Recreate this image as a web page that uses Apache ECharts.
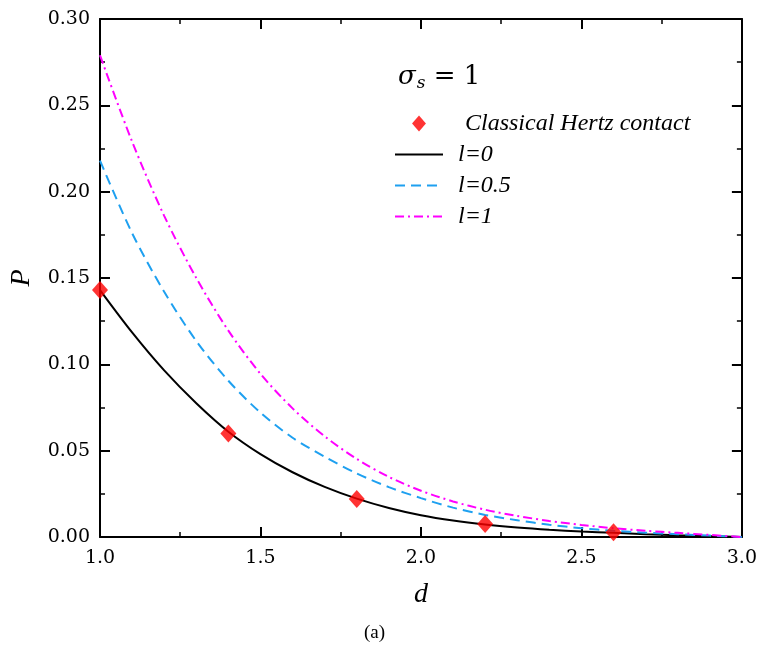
<!DOCTYPE html>
<html>
<head>
<meta charset="utf-8">
<script src="https://cdn.jsdelivr.net/npm/echarts@6/dist/echarts.min.js"></script>
<style>html,body{margin:0;padding:0;background:#fff}#c{width:760px;height:652px}</style>
</head>
<body>
<div id="c"></div>
<script>
// ---- data ----
var dValues = [1.0,1.1,1.2,1.3,1.4,1.5,1.6,1.7,1.8,1.9,2.0,2.1,2.2,2.3,2.4,2.5,2.6,2.7,2.8,2.9,3.0];
var pL0   = [0.143,0.1185,0.0965,0.0775,0.061,0.048,0.0375,0.029,0.0222,0.0168,0.0126,0.0095,0.0072,0.0055,0.0042,0.0032,0.0024,0.0016,0.0010,0.0005,0.0];
var pL05  = [0.218,0.176,0.142,0.1135,0.0905,0.072,0.0575,0.0465,0.0368,0.0289,0.0225,0.017,0.0128,0.0097,0.0071,0.0051,0.0036,0.0025,0.0016,0.0008,0.0];
var pL1   = [0.279,0.229,0.186,0.150,0.1195,0.0945,0.0745,0.0583,0.0452,0.0348,0.0268,0.0206,0.0158,0.0122,0.0093,0.0070,0.0051,0.0036,0.0024,0.0012,0.0];
var hertzD = [1.0,1.4,1.8,2.2,2.6];
var hertzP = [0.143,0.060,0.022,0.0075,0.0028];
var xTicks = [1.0,1.5,2.0,2.5,3.0];
var yTicks = [0.00,0.05,0.10,0.15,0.20,0.25,0.30];
var seriesNames = ['Classical Hertz contact','l=0','l=0.5','l=1'];

function pairs(xs, ys){ return xs.map(function(x,i){ return [x, ys[i]]; }); }

var FONT = 'DejaVu Serif';
var chart = echarts.init(document.getElementById('c'), null, {renderer:'canvas'});

function axisCommon(extra){
  var base = {
    type:'value',
    axisLine:{show:true, onZero:false, lineStyle:{color:'#000', width:2}},
    axisTick:{show:true, inside:true, length:10, lineStyle:{color:'#000', width:2}},
    minorTick:{show:true, splitNumber:2, length:5, lineStyle:{color:'#000', width:1.5}},
    splitLine:{show:false},
    minorSplitLine:{show:false}
  };
  for (var k in extra) base[k] = extra[k];
  return base;
}

var hidden = {color:'rgba(0,0,0,0)', borderWidth:0, opacity:0};

var option = {
  backgroundColor:'#fff',
  animation:false,
  grid:{left:98, right:18, top:19, bottom:115, containLabel:false},
  xAxis:[
    axisCommon({min:xTicks[0], max:xTicks[xTicks.length-1], interval:0.5, position:'bottom',
      name:'d', nameLocation:'middle', nameGap:44,
      nameTextStyle:{fontFamily:'Liberation Serif', fontStyle:'italic', fontSize:28, color:'#000'},
      axisLabel:{show:true, margin:12, fontFamily:FONT, fontSize:19, color:'#000',
        formatter:function(v){return v.toFixed(1);}}}),
    axisCommon({min:xTicks[0], max:xTicks[xTicks.length-1], interval:0.5, position:'top',
      axisLabel:{show:false}})
  ],
  yAxis:[
    axisCommon({min:yTicks[0], max:yTicks[yTicks.length-1], interval:0.05, position:'left',
      name:'P', nameLocation:'middle', nameGap:64,
      nameTextStyle:{fontFamily:'Liberation Serif', fontStyle:'italic', fontSize:28, color:'#000'},
      axisLabel:{show:true, margin:10, fontFamily:FONT, fontSize:19, color:'#000',
        formatter:function(v){return v.toFixed(2);}}}),
    axisCommon({min:yTicks[0], max:yTicks[yTicks.length-1], interval:0.05, position:'right',
      axisLabel:{show:false}})
  ],
  legend:{
    orient:'vertical', left:389, top:106,
    itemWidth:48, itemHeight:16, itemGap:6,
    data:[
      {name:seriesNames[0], icon:'path://M0,-1.15L1,0L0,1.15L-1,0Z', textStyle:{padding:[0,0,0,17]}},
      {name:seriesNames[1], itemStyle:hidden},
      {name:seriesNames[2], itemStyle:hidden},
      {name:seriesNames[3], itemStyle:hidden}
    ],
    textStyle:{fontFamily:'Liberation Serif', fontStyle:'italic', fontSize:24, color:'#000', lineHeight:25, padding:[0,0,0,10]}
  },
  graphic:[
    {type:'text', left:398, top:64, style:{
      text:'{s|σ}{sub|s}{eq| = 1}',
      rich:{
        s:{fontFamily:'DejaVu Serif', fontStyle:'italic', fontSize:26, fill:'#000'},
        sub:{fontFamily:'DejaVu Serif', fontStyle:'italic', fontSize:17, fill:'#000', padding:[14,0,0,1]},
        eq:{fontFamily:'DejaVu Serif', fontSize:26, fill:'#000'}
      }}},
    {type:'text', left:364, top:624, style:{text:'(a)', fontFamily:'Liberation Serif', fontSize:19, fill:'#000'}}
  ],
  series:[
    {name:seriesNames[1], type:'line', data:pairs(dValues,pL0), smooth:0.3, symbol:'none', showSymbol:false,
      lineStyle:{color:'#000', width:2, type:'solid'}, itemStyle:{color:'#000'}, z:3},
    {name:seriesNames[2], type:'line', data:pairs(dValues,pL05), smooth:0.3, symbol:'none', showSymbol:false,
      lineStyle:{color:'#1ea0f0', width:2, type:[10,6]}, itemStyle:{color:'#1ea0f0'}, z:3},
    {name:seriesNames[3], type:'line', data:pairs(dValues,pL1), smooth:0.3, symbol:'none', showSymbol:false,
      lineStyle:{color:'#ff00ff', width:2, type:[9,4,2,4]}, itemStyle:{color:'#ff00ff'}, z:3},
    {name:seriesNames[0], type:'scatter', data:pairs(hertzD,hertzP), symbol:'diamond', symbolSize:[16,18],
      itemStyle:{color:'#ff0000'}, clip:true, z:5}
  ]
};
chart.setOption(option);
</script>
</body>
</html>
